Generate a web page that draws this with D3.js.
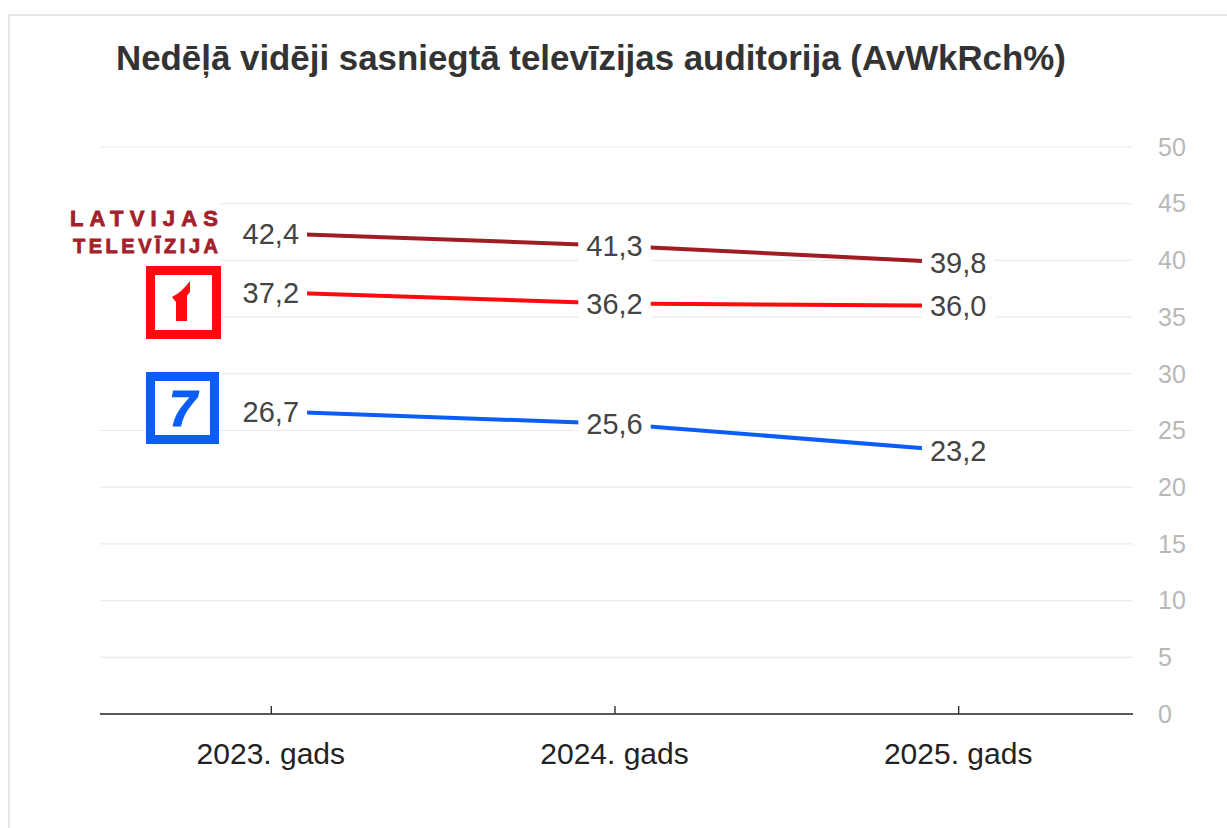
<!DOCTYPE html>
<html lang="lv">
<head>
    <meta charset="UTF-8">
    <title>Nedēļā vidēji sasniegtā televīzijas auditorija</title>
    <script src="https://d3js.org/d3.v7.min.js"></script>
    <style>
        body { margin: 0; background: #fff; }
        svg { display: block; font-family: "Liberation Sans", Arial, sans-serif; }
        .grid line { stroke: #ebebeb; stroke-width: 1.2px; }
        .ytick { fill: #b8b8b8; font-size: 25px; }
        .xtick { fill: #222; font-size: 30px; }
        .val { fill: #444; font-size: 29px; }
        .series { fill: none; stroke-width: 4px; }
    </style>
</head>
<body>
<script>
    // chart data
    const years = ["2023. gads", "2024. gads", "2025. gads"];
    const ltvValues = [42.4, 41.3, 39.8];   // Latvijas Televīzija kopā
    const ltv1Values = [37.2, 36.2, 36.0];  // LTV1
    const ltv7Values = [26.7, 25.6, 23.2];  // LTV7
    const yTicks = [0, 5, 10, 15, 20, 25, 30, 35, 40, 45, 50];

    const width = 1227, height = 828;
    const svg = d3.select("body").append("svg")
        .attr("width", width)
        .attr("height", height);

    // card frame
    svg.append("rect")
        .attr("x", 9).attr("y", 15)
        .attr("width", width + 20).attr("height", height)
        .attr("fill", "#fff")
        .attr("stroke", "#e6e6e6")
        .attr("stroke-width", 2);

    // title, fitted to the width it has in the original
    const title = svg.append("text")
        .attr("x", 116).attr("y", 70)
        .attr("fill", "#333")
        .attr("font-weight", "bold")
        .attr("font-size", 30)
        .text("Nedēļā vidēji sasniegtā televīzijas auditorija (AvWkRch%)");
    const tl = title.node().getComputedTextLength();
    title.attr("font-size", 30 * 950 / tl);

    const x = d3.scalePoint()
        .domain(years)
        .range([99, 1130])
        .padding(0.5);

    const y = d3.scaleLinear()
        .domain([0, 50])
        .range([714, 147]);

    // gridlines
    svg.append("g").attr("class", "grid")
        .selectAll("line")
        .data(yTicks.filter(d => d > 0))
        .join("line")
        .attr("x1", 100).attr("x2", 1133)
        .attr("y1", d => y(d)).attr("y2", d => y(d));

    // y labels on the right
    svg.append("g")
        .selectAll("text")
        .data(yTicks)
        .join("text")
        .attr("class", "ytick")
        .attr("x", 1158)
        .attr("y", d => y(d))
        .attr("dy", "0.35em")
        .text(d => d);

    // x axis
    const xAxis = svg.append("g")
        .attr("transform", `translate(0,${y(0)})`)
        .call(d3.axisTop(x).tickSize(8).tickFormat(""));
    xAxis.select(".domain").remove();
    xAxis.selectAll(".tick line").attr("stroke", "#222").attr("stroke-width", 1.3);
    svg.append("line")
        .attr("x1", 100).attr("x2", 1133)
        .attr("y1", y(0)).attr("y2", y(0))
        .attr("stroke", "#222").attr("stroke-width", 1.6);

    svg.append("g")
        .selectAll("text")
        .data(years)
        .join("text")
        .attr("class", "xtick")
        .attr("x", d => x(d))
        .attr("y", 764)
        .attr("text-anchor", "middle")
        .text(d => d);

    const series = [
        { name: "LTV", values: ltvValues, color: "#9e1c22" },
        { name: "LTV1", values: ltv1Values, color: "#ff0a0f" },
        { name: "LTV7", values: ltv7Values, color: "#0a5ef7" }
    ];

    const line = d3.line()
        .x((d, i) => x(years[i]))
        .y(d => y(d));

    svg.append("g")
        .selectAll("path")
        .data(series)
        .join("path")
        .attr("class", "series")
        .attr("stroke", d => d.color)
        .attr("d", d => line(d.values));

    // value labels with a white backing
    const fmt = d3.formatLocale({ decimal: ",", thousands: " ", grouping: [3], currency: ["", " €"] }).format(".1f");
    const labels = svg.append("g")
        .selectAll("g")
        .data(series.flatMap(s => s.values.map((v, i) => ({ v, year: years[i] }))))
        .join("g")
        .attr("transform", d => `translate(${x(d.year)},${y(d.v)})`);
    labels.append("rect").attr("fill", "#fff");
    labels.append("text")
        .attr("class", "val")
        .attr("text-anchor", "middle")
        .attr("dy", "0.36em")
        .text(d => fmt(d.v));
    labels.each(function () {
        const g = d3.select(this);
        const w = g.select("text").node().getComputedTextLength() + 16;
        g.select("rect")
            .attr("x", -w / 2).attr("y", -16)
            .attr("width", w).attr("height", 32);
    });

    // logos
    const logos = svg.append("g");
    logos.append("rect").attr("x", 60).attr("y", 195).attr("width", 160).attr("height", 70).attr("fill", "#fff");
    logos.append("text")
        .attr("x", 70).attr("y", 226)
        .attr("font-size", 22).attr("font-weight", "bold")
        .attr("fill", "#a3212a").attr("stroke", "#a3212a").attr("stroke-width", 0.8)
        .attr("textLength", 148).attr("lengthAdjust", "spacing")
        .text("LATVIJAS");
    logos.append("text")
        .attr("x", 73).attr("y", 253)
        .attr("font-size", 20).attr("font-weight", "bold")
        .attr("fill", "#a3212a").attr("stroke", "#a3212a").attr("stroke-width", 0.8)
        .attr("textLength", 145).attr("lengthAdjust", "spacing")
        .text("TELEVĪZIJA");

    // LTV1 box
    logos.append("rect").attr("x", 100).attr("y", 266).attr("width", 122).attr("height", 76).attr("fill", "#fff");
    const b1 = logos.append("g").attr("transform", "translate(146,266)");
    b1.append("rect")
        .attr("x", 4.5).attr("y", 4.5).attr("width", 66).attr("height", 64)
        .attr("fill", "#fff").attr("stroke", "#ff0a0f").attr("stroke-width", 9);
    b1.append("path")
        .attr("fill", "#ff0a0f")
        .attr("d", "M30,32 L41,26 L41,55 L30,55 Z M26,31 Q36,26 44,15 L44,26 Q40,32 30,36 Z");

    // LTV7 box
    logos.append("rect").attr("x", 100).attr("y", 366).attr("width", 122).attr("height", 60).attr("fill", "#fff");
    const b7 = logos.append("g").attr("transform", "translate(146,372)");
    b7.append("rect")
        .attr("x", 4.5).attr("y", 4.5).attr("width", 64).attr("height", 63)
        .attr("fill", "#fff").attr("stroke", "#0a5ef7").attr("stroke-width", 9);
    b7.append("text")
        .attr("x", 37).attr("y", 54)
        .attr("text-anchor", "middle")
        .attr("font-size", 50).attr("font-weight", "bold").attr("font-style", "italic")
        .attr("fill", "#0a5ef7").attr("stroke", "#0a5ef7").attr("stroke-width", 1.2)
        .text("7");
</script>
</body>
</html>
